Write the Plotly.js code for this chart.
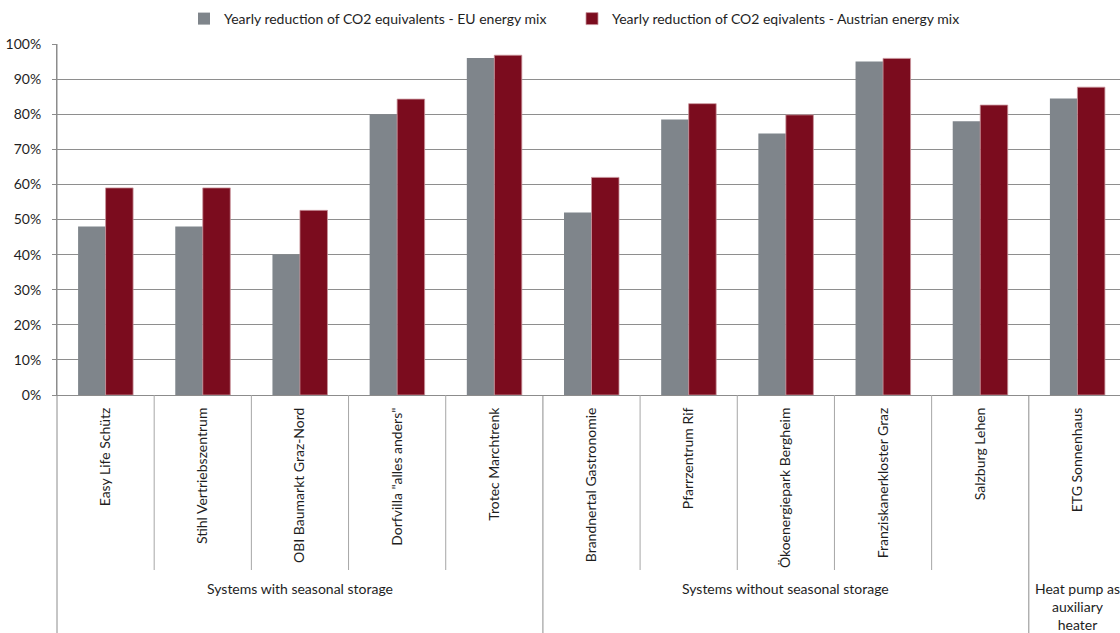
<!DOCTYPE html>
<html>
<head>
<meta charset="utf-8">
<script src="https://cdn.plot.ly/plotly-3.0.1.min.js"></script>
<style>
html, body { margin: 0; padding: 0; overflow: hidden; background: #fff; }
#chart { width: 1140px; height: 633px; }
</style>
</head>
<body>
<div id="chart"></div>
<script>
// ---- data ----
const categories = [
  "Easy Life Schütz", "Stihl Vertriebszentrum", "OBI Baumarkt Graz-Nord",
  "Dorfvilla \"alles anders\"", "Trotec Marchtrenk",
  "Brandnertal Gastronomie", "Pfarrzentrum Rif", "Ökoenergiepark Bergheim",
  "Franziskanerkloster Graz", "Salzburg Lehen",
  "ETG Sonnenhaus"
];
const groupNames = [
  "Systems with seasonal storage",
  "Systems without seasonal storage",
  "Heat pump as<br>auxiliary<br>heater"
];
const groupSizes = [5, 5, 1];
const euMix = [0.48, 0.48, 0.40, 0.80, 0.96, 0.52, 0.785, 0.745, 0.95, 0.78, 0.845];
const atMix = [0.59, 0.59, 0.526, 0.843, 0.968, 0.62, 0.83, 0.798, 0.959, 0.826, 0.877];
const seriesNames = [
  "Yearly reduction of CO2 equivalents - EU energy mix",
  "Yearly reduction of CO2 eqivalents - Austrian energy mix"
];

// ---- layout helpers ----
const W = 1140, H = 633;
const mL = 57, mR = 14, mT = 44, mB = 238;
const plotH = H - mT - mB;
const pxToPaperY = py => (H - mB - py) / plotH;

const FONT = "Lato, 'Open Sans', sans-serif";
const FS = 14;
const TXT = "#1e1e1e";

const shapes = [];
shapes.push({type: "line", xref: "paper", yref: "paper", x0: 0, x1: 0,
  y0: 1, y1: pxToPaperY(H), line: {color: "#8c8c8c", width: 1}});
const groupBounds = new Set();
let acc = 0;
groupSizes.forEach(s => { acc += s; groupBounds.add(acc); });
for (let i = 1; i < categories.length; i++) {
  const isGroup = groupBounds.has(i);
  shapes.push({type: "line", xref: "x", yref: "paper", x0: i - 0.5, x1: i - 0.5,
    y0: 0, y1: pxToPaperY(isGroup ? H : 570),
    line: {color: isGroup ? "#8c8c8c" : "#a6a6a6", width: 1}});
}

const annotations = [];
let start = 0;
groupSizes.forEach((s, gi) => {
  const center = start + (s - 1) / 2;
  annotations.push({xref: "x", yref: "paper", x: center, y: pxToPaperY(578),
    xanchor: "center", yanchor: "top", showarrow: false, text: groupNames[gi],
    font: {family: FONT, size: FS, color: TXT}, align: "center"});
  start += s;
});

const traces = [
  {type: "bar", name: seriesNames[0], x: categories, y: euMix,
   marker: {color: "#7f858b"}},
  {type: "bar", name: seriesNames[1], x: categories, y: atMix,
   marker: {color: "#7b0c1e", line: {color: "#c9949c", width: 0.8}}}
];

const layout = {
  width: W, height: H,
  margin: {l: mL, r: mR, t: mT, b: mB, pad: 0},
  paper_bgcolor: "#fff", plot_bgcolor: "#fff",
  font: {family: FONT, size: FS, color: TXT},
  barmode: "group", bargap: 0.434, bargroupgap: 0,
  showlegend: true,
  legend: {orientation: "h", xref: "container", yref: "container",
    x: 184 / W, xanchor: "left", y: 1 - 19 / H, yanchor: "middle",
    font: {family: FONT, size: FS, color: TXT}, entrywidth: 343, traceorder: "normal"},
  xaxis: {type: "category", showgrid: false, showline: true, linecolor: "#8c8c8c",
    linewidth: 1, ticks: "", tickangle: -90, automargin: false, ticklabelstandoff: 6,
    tickfont: {family: FONT, size: FS, color: TXT}},
  yaxis: {range: [0, 1], dtick: 0.1, tickformat: ".0%", showgrid: true,
    gridcolor: "#8e8e8e", gridwidth: 1, showline: true, linecolor: "#8c8c8c",
    ticks: "outside", ticklen: 4, tickcolor: "#8c8c8c", zeroline: false,
    automargin: false, tickfont: {family: FONT, size: FS, color: TXT}, ticklabelstandoff: 8},
  shapes: shapes,
  annotations: annotations
};

Plotly.newPlot("chart", traces, layout, {displayModeBar: false, staticPlot: true});
</script>
</body>
</html>
